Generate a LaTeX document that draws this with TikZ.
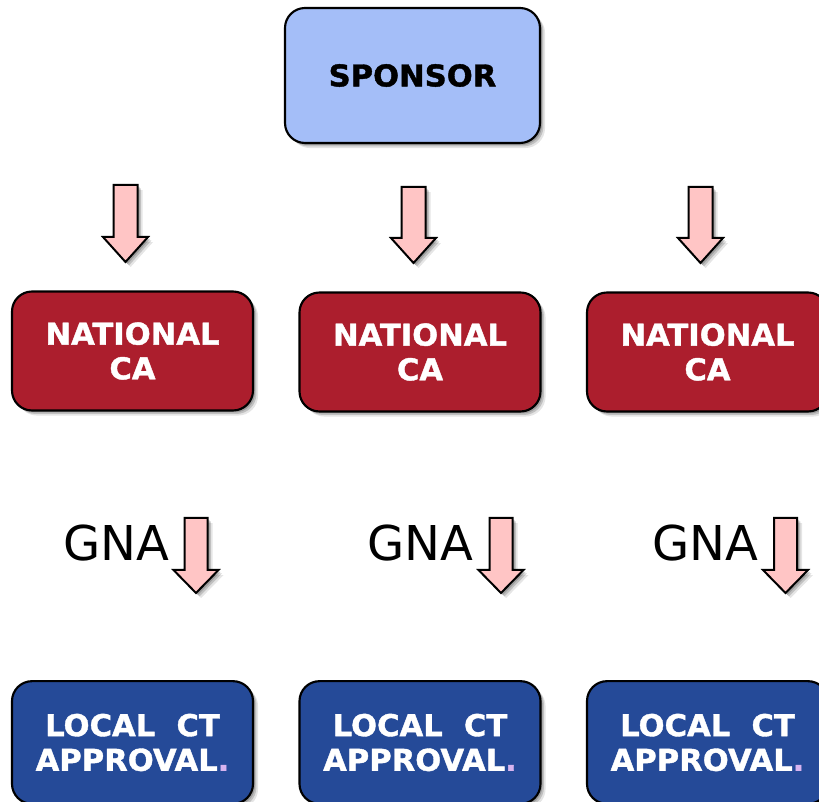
\documentclass[tikz,border=0pt]{standalone}
\usepackage{fontspec}
\setmainfont{DejaVu Sans}
\newfontfamily\boxfont{DejaVu Sans Bold}[FakeBold=1.3,FakeStretch=1.02]
\usetikzlibrary{shadows}
\definecolor{sponsorfill}{HTML}{A4BEF8}
\definecolor{cared}{HTML}{AC1E2D}
\definecolor{localblue}{HTML}{254A98}
\definecolor{arrowpink}{HTML}{FFC5C5}
\definecolor{dotlav}{HTML}{D8B4F0}
\newcommand{\blkarrow}[5]{% cx, top, tip, shaft half width, head length
  \filldraw[blockarr] (#1-#4,#2) -- (#1+#4,#2) -- (#1+#4,#3-#5) -- (#1+22.5,#3-#5) -- (#1,#3) -- (#1-22.5,#3-#5) -- (#1-#4,#3-#5) -- cycle;}
\begin{document}
\begin{tikzpicture}[x=0.75pt,y=-0.75pt,
  shadowed/.style={
    drop shadow={shadow xshift=1.5pt,shadow yshift=-1.5pt,fill=black,opacity=0.18},
    drop shadow={shadow xshift=2.6pt,shadow yshift=-2.6pt,fill=black,opacity=0.16},
    drop shadow={shadow xshift=3.8pt,shadow yshift=-3.8pt,fill=black,opacity=0.10}},
  boxbase/.style={draw=black,line width=1.6pt,rounded corners=15pt,align=center,
    font=\fontsize{22.5}{26}\boxfont,shadowed},
  sponsorbox/.style={boxbase,fill=sponsorfill,text=black,minimum width=191.25pt,minimum height=101.25pt},
  cabox/.style={boxbase,fill=cared,text=white,minimum width=180.75pt,minimum height=89.25pt},
  localbox/.style={boxbase,fill=localblue,text=white,minimum width=180.75pt,minimum height=92pt},
  blockarr/.style={draw=black,line width=1.5pt,fill=arrowpink,line join=miter,shadowed},
  gnatext/.style={font=\fontsize{36}{40}\selectfont,text=black}
]
\useasboundingbox (0,0) rectangle (819,802);

\node[sponsorbox] (sponsor) at (412.5,75.5) {SPONSOR};

\node[cabox] (ca1) at (132.5,351) {NATIONAL\\CA};
\node[cabox] (ca2) at (420,352) {NATIONAL\\CA};
\node[cabox] (ca3) at (707.5,352) {NATIONAL\\CA};

\node[localbox] (lo1) at (132.5,742.5) {LOCAL\ \ CT\\APPROVAL{\color{dotlav}.}};
\node[localbox] (lo2) at (420,742.5) {LOCAL\ \ CT\\APPROVAL{\color{dotlav}.}};
\node[localbox] (lo3) at (707.5,742.5) {LOCAL\ \ CT\\APPROVAL{\color{dotlav}.}};

\blkarrow{125.5}{185}{262}{12}{25}
\blkarrow{413.5}{187}{263}{12}{25}
\blkarrow{700.5}{187}{263}{12}{25}

\node[gnatext] (gna1) at (116,543) {GNA};
\node[gnatext] (gna2) at (420,543) {GNA};
\node[gnatext] (gna3) at (705,543) {GNA};

\blkarrow{196}{518}{593}{11.5}{23}
\blkarrow{501}{518}{593}{11.5}{23}
\blkarrow{785.5}{518}{593}{11.5}{23}
\end{tikzpicture}
\end{document}
